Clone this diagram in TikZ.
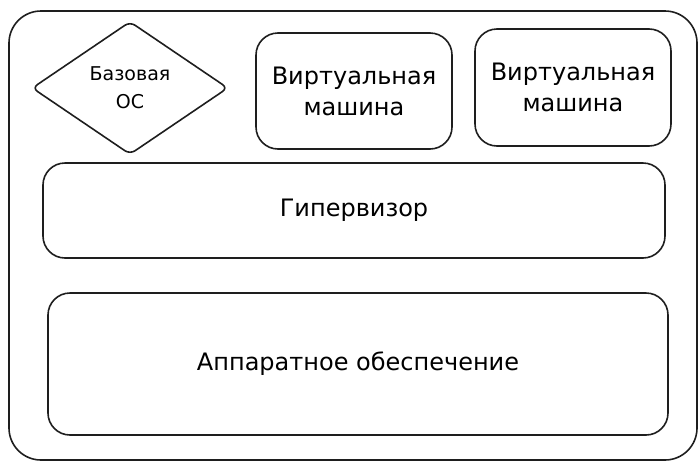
\documentclass[tikz,border=0pt]{standalone}
\usepackage{fontspec}
\setmainfont{DejaVu Sans}
\usetikzlibrary{positioning, shapes.geometric}
\definecolor{skink}{HTML}{1E1E1E}

\begin{document}
\begin{tikzpicture}[
  x=1pt, y=-1pt,
  layer/.style={draw=skink, line width=1.6pt, rounded corners=22pt, align=center, inner sep=0pt, font=\fontsize{24}{31}\selectfont},
  osbox/.style={draw=skink, line width=1.6pt, diamond, rounded corners=6pt, align=center, inner sep=0pt, font=\fontsize{19}{28}\selectfont}
]
  \useasboundingbox (0,0) rectangle (700,461);
  \node[layer, rounded corners=32pt, minimum width=688pt, minimum height=449pt] (host) at (353,235.5) {};
  \node[osbox, minimum width=196pt, minimum height=133pt] (baseos) at (130,88) {Базовая\\ОС};
  \node[layer, minimum width=196pt, minimum height=116pt] (vm1) at (354,91) {Виртуальная\\машина};
  \node[layer, minimum width=196pt, minimum height=117pt] (vm2) at (573,87.5) {Виртуальная\\машина};
  \node[layer, minimum width=622pt, minimum height=95pt] (hyper) at (354,210.5) {Гипервизор};
  \node[layer, minimum width=620pt, minimum height=142pt] (hw) at (358,364) {Аппаратное обеспечение};
\end{tikzpicture}
\end{document}
